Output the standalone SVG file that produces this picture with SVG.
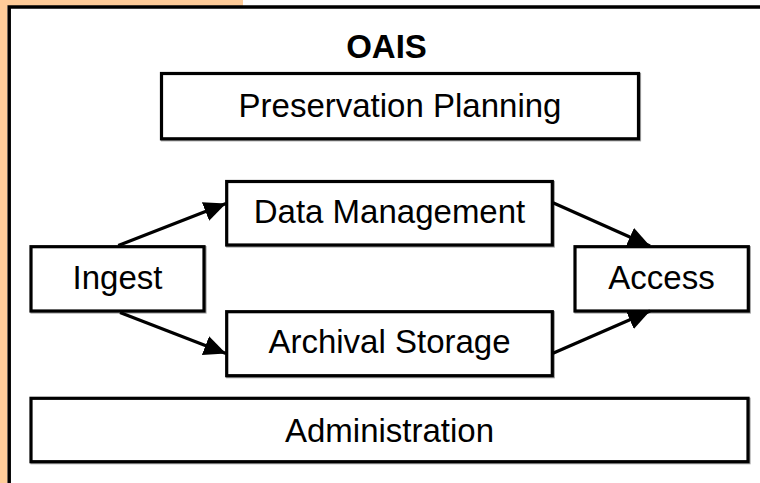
<svg xmlns="http://www.w3.org/2000/svg" width="760" height="483" viewBox="0 0 760 483">
  <defs>
    <style>
      .box { fill: #ffffff; stroke: #000000; stroke-width: 3.2; }
      .sh { fill: none; stroke: #a0a0a0; stroke-width: 3.2; }
      .lbl { font-family: "Liberation Sans", Arial, sans-serif; font-size: 33px; fill: #000000; text-anchor: middle; }
      .title { font-family: "Liberation Sans", Arial, sans-serif; font-size: 33px; font-weight: bold; fill: #000000; text-anchor: middle; }
      .edge { fill: none; stroke: #000000; stroke-width: 3.2; }
    </style>
    <marker id="arrow" markerUnits="userSpaceOnUse" markerWidth="24" markerHeight="22" refX="22" refY="10" orient="auto">
      <path d="M0,0 L22,10 L0,20 Z" fill="#000000"/>
    </marker>
  </defs>

  <rect x="0" y="0" width="760" height="483" fill="#ffffff"/>
  <!-- peach L-band -->
  <rect x="0" y="0" width="243" height="6" fill="#FFCC99"/>
  <rect x="0" y="0" width="7.5" height="483" fill="#FFCC99"/>

  <!-- OAIS container -->
  <g id="oais">
    <rect x="9.2" y="7" width="800" height="520" fill="#ffffff" stroke="#000000" stroke-width="3.5"/>
    <text class="title" x="386.5" y="58">OAIS</text>
  </g>

  <g id="preservation-planning">
    <rect class="sh" x="162.5" y="74.5" width="477" height="65.3"/>
    <rect class="box" x="161.5" y="73.5" width="477" height="65.3"/>
    <text class="lbl" x="400" y="116.6">Preservation Planning</text>
  </g>

  <g id="data-management">
    <rect class="sh" x="227.7" y="182.5" width="325.6" height="63.5"/>
    <rect class="box" x="226.7" y="181.5" width="325.6" height="63.5"/>
    <text class="lbl" x="389.5" y="223">Data Management</text>
  </g>

  <g id="archival-storage">
    <rect class="sh" x="227.7" y="312.7" width="325.6" height="64"/>
    <rect class="box" x="226.7" y="311.7" width="325.6" height="64"/>
    <text class="lbl" x="389.5" y="353">Archival Storage</text>
  </g>

  <g id="ingest">
    <rect class="sh" x="32" y="247.7" width="173" height="64.3"/>
    <rect class="box" x="31" y="246.7" width="173" height="64.3"/>
    <text class="lbl" x="117.5" y="288.5">Ingest</text>
  </g>

  <g id="access">
    <rect class="sh" x="576" y="247.7" width="173.3" height="64.3"/>
    <rect class="box" x="575" y="246.7" width="173.3" height="64.3"/>
    <text class="lbl" x="661.5" y="288.5">Access</text>
  </g>

  <g id="administration">
    <rect class="sh" x="32" y="399.3" width="717" height="63.4"/>
    <rect class="box" x="31" y="398.3" width="717" height="63.4"/>
    <text class="lbl" x="389.5" y="441.5">Administration</text>
  </g>

  <g id="connectors">
    <line class="edge" x1="118.3" y1="245.5" x2="226" y2="203.5" marker-end="url(#arrow)"/>
    <line class="edge" x1="120" y1="312.5" x2="226" y2="353.5" marker-end="url(#arrow)"/>
    <line class="edge" x1="553" y1="202.7" x2="650" y2="246" marker-end="url(#arrow)"/>
    <line class="edge" x1="553" y1="353.3" x2="650" y2="311" marker-end="url(#arrow)"/>
  </g>
</svg>
